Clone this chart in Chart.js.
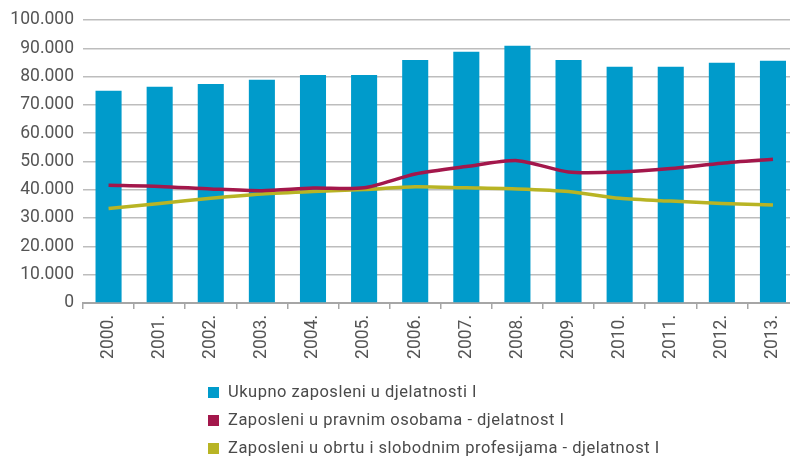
<!DOCTYPE html>
<html>
<head>
<meta charset="utf-8">
<script src="https://cdn.jsdelivr.net/npm/chart.js@4"></script>
<style>
  html, body { margin: 0; padding: 0; background: #fff; overflow: hidden; }
  #wrap { position: relative; width: 800px; height: 457px; }
  #legend { position: absolute; left: 208px; top: 379px; font-family: Roboto, sans-serif; font-size: 16.5px; letter-spacing: 0.5px; color: #4a4a4a; }
  #legend div { height: 28px; line-height: 26px; white-space: nowrap; }
  #legend span.box { display: inline-block; width: 11px; height: 11px; margin-right: 9px; vertical-align: -1px; }
</style>
</head>
<body>
<div id="wrap">
  <canvas id="chart" width="800" height="457"></canvas>
  <div id="legend"></div>
</div>
<script>
// Godine
const godine = ['2000.', '2001.', '2002.', '2003.', '2004.', '2005.', '2006.', '2007.', '2008.', '2009.', '2010.', '2011.', '2012.', '2013.'];

// Ukupno zaposleni u djelatnosti I
const ukupno = [75000, 76400, 77400, 78900, 80600, 80600, 85900, 88800, 90900, 85900, 83500, 83500, 84900, 85600];

// Zaposleni u pravnim osobama
const pravneOsobe = [41600, 41200, 40300, 39700, 40600, 40700, 45600, 48200, 50300, 46300, 46300, 47500, 49400, 50800];

// Zaposleni u obrtu i slobodnim profesijama
const obrt = [33400, 35200, 37000, 38500, 39400, 40100, 41100, 40700, 40300, 39400, 37000, 36000, 35200, 34600];

const nazivi = [
    'Ukupno zaposleni u djelatnosti I',
    'Zaposleni u pravnim osobama - djelatnost I',
    'Zaposleni u obrtu i slobodnim profesijama - djelatnost I'
];
const boje = ['#009bcb', '#a3174b', '#b8b424'];

// format 100000 -> 100.000
function formatBroj(v) {
    return String(v).replace(/\B(?=(\d{3})+(?!\d))/g, '.');
}

const ctx = document.getElementById('chart').getContext('2d');
const chart = new Chart(ctx, {
    data: {
        labels: godine,
        datasets: [
            {
                type: 'line',
                label: nazivi[1],
                data: pravneOsobe,
                borderColor: boje[1],
                backgroundColor: boje[1],
                borderWidth: 3.5,
                pointRadius: 0,
                tension: 0.25,
                order: 1
            },
            {
                type: 'line',
                label: nazivi[2],
                data: obrt,
                borderColor: boje[2],
                backgroundColor: boje[2],
                borderWidth: 3.5,
                pointRadius: 0,
                tension: 0.25,
                order: 1
            },
            {
                type: 'bar',
                label: nazivi[0],
                data: ukupno,
                backgroundColor: boje[0],
                barPercentage: 0.51,
                categoryPercentage: 1,
                order: 2
            }
        ]
    },
    options: {
        responsive: false,
        animation: false,
        layout: { padding: { top: 20, right: 1, left: 0, bottom: 0 } },
        plugins: {
            legend: { display: false },
            tooltip: { enabled: false }
        },
        scales: {
            x: {
                offset: true,
                grid: {
                    offset: true,
                    drawOnChartArea: false,
                    drawTicks: true,
                    tickLength: 6,
                    color: '#a6a6a6',
                    lineWidth: 1.5
                },
                border: { color: '#a6a6a6', width: 2 },
                ticks: {
                    minRotation: 90,
                    maxRotation: 90,
                    color: '#555',
                    padding: 6,
                    font: { family: 'Roboto', size: 17.5 }
                },
                afterFit: function (scale) { scale.height = 457 - 303; }
            },
            y: {
                min: 0,
                max: 100000,
                ticks: {
                    stepSize: 10000,
                    color: '#555',
                    padding: 9,
                    font: { family: 'Roboto', size: 17.5 },
                    callback: function (v) { return formatBroj(v); }
                },
                grid: {
                    color: '#bdbdbd',
                    lineWidth: 1.5,
                    drawTicks: false
                },
                border: { display: false },
                afterFit: function (scale) { scale.width = 83; }
            }
        }
    }
});

// legenda ispod grafa
const legendEl = document.getElementById('legend');
nazivi.forEach((naziv, i) => {
    const row = document.createElement('div');
    const box = document.createElement('span');
    box.className = 'box';
    box.style.background = boje[i];
    row.appendChild(box);
    row.appendChild(document.createTextNode(naziv));
    legendEl.appendChild(row);
});
</script>
</body>
</html>
